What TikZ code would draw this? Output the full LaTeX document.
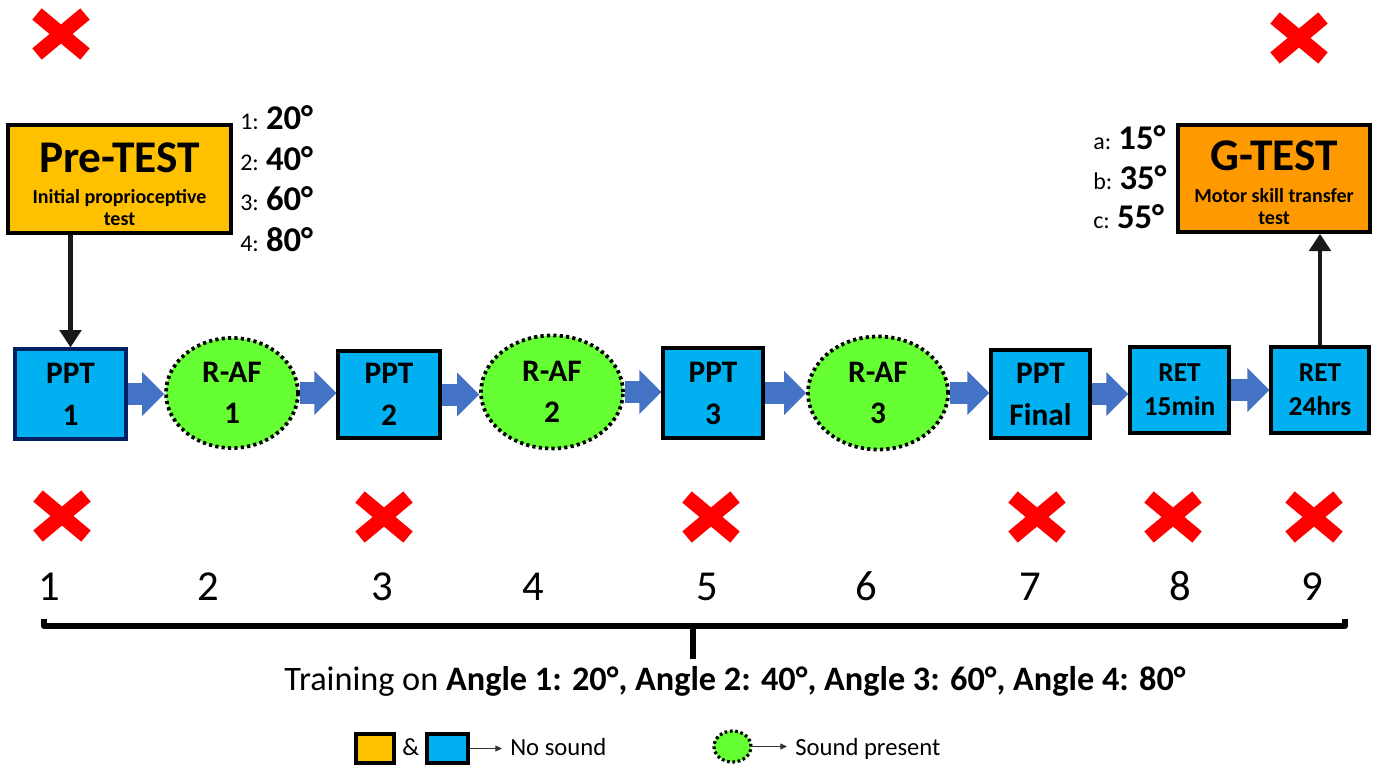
\documentclass[tikz,border=0pt]{standalone}
\usepackage{fontspec}
\setmainfont{Carlito}
\usetikzlibrary{arrows.meta,shapes.geometric}
\definecolor{preyellow}{HTML}{FFC000}
\definecolor{gorange}{HTML}{FF9900}
\definecolor{boxblue}{HTML}{00B0F0}
\definecolor{soundgreen}{HTML}{66FF33}
\definecolor{arrowblue}{HTML}{4472C4}
\definecolor{navyedge}{HTML}{002060}
\definecolor{crossred}{HTML}{FF0000}
\begin{document}
\begin{tikzpicture}[x=0.75pt,y=-0.75pt,
  testbox/.style={draw=black,line width=2.6pt,inner sep=0pt},
  pptbox/.style={draw=black,line width=2.4pt,fill=boxblue,inner sep=0pt,align=center,
    font=\bfseries\fontsize{23.5}{31.5}\selectfont},
  retbox/.style={pptbox,font=\bfseries\fontsize{20.5}{25.5}\selectfont},
  rafnode/.style={ellipse,draw=black,line width=2.8pt,dash pattern=on 2.4pt off 2.4pt,
    fill=soundgreen,inner sep=0pt,align=center,font=\bfseries\fontsize{23.5}{30.75}\selectfont},
  barrow/.style={draw=arrowblue,line width=16.5pt,
    -{Triangle[length=16.5pt 0 0,width=32pt 0 0]}},
  karrow/.style={draw=black!90,line width=3.4pt,
    -{Triangle[length=13pt 0 0,width=16pt 0 0]}},
  larrow/.style={draw=black!80,line width=0.9pt,
    -{Triangle[length=5pt 0 0,width=4.5pt 0 0]}},
  titletxt/.style={inner sep=0pt,anchor=base,font=\bfseries\fontsize{34}{40}\selectfont},
  subtxt/.style={inner sep=0pt,anchor=base,font=\bfseries\fontsize{15}{18}\selectfont},
  angtxt/.style={inner sep=0pt,anchor=base west,font=\fontsize{18}{22}\selectfont},
  angbold/.style={font=\bfseries\fontsize{26}{30}\selectfont},
  numtxt/.style={inner sep=0pt,anchor=base,font=\fontsize{32}{38}\selectfont},
  legtxt/.style={inner sep=0pt,anchor=base west,font=\fontsize{18.5}{22}\selectfont},
  redx/.pic={\draw[crossred,line width=11pt] (-24,-20)--(24,20) (-24,20)--(24,-20);}
]
\useasboundingbox (0,0) rectangle (1380,767);

% crosses
\pic at (61,34) {redx};
\pic at (1299,38) {redx};
\pic at (62,516) {redx};
\pic at (384,517) {redx};
\pic at (711,517) {redx};
\pic at (1037,517) {redx};
\pic at (1173,517) {redx};
\pic at (1314,517) {redx};

% Pre-TEST
\node[testbox,fill=preyellow,minimum width={0.75pt*223},minimum height={0.75pt*108}] (pre) at (119.5,179) {};
\node[titletxt] (pretitle) at (119.5,172) {Pre-TEST};
\node[subtxt] (presub1) at (119.5,203) {Initial proprioceptive};
\node[subtxt] (presub2) at (119.5,225) {test};

\node[angtxt] (ang1) at (240,129) {1: {\bfseries\fontsize{26}{30}\selectfont 20°}};
\node[angtxt] (ang2) at (240,170) {2: {\bfseries\fontsize{26}{30}\selectfont 40°}};
\node[angtxt] (ang3) at (240,210) {3: {\bfseries\fontsize{26}{30}\selectfont 60°}};
\node[angtxt] (ang4) at (240,251) {4: {\bfseries\fontsize{26}{30}\selectfont 80°}};

% G-TEST
\node[testbox,fill=gorange,minimum width={0.75pt*192},minimum height={0.75pt*107}] (gtest) at (1274,178.5) {};
\node[titletxt] (gtitle) at (1274,170) {G-TEST};
\node[subtxt] (gsub1) at (1274,202) {Motor skill transfer};
\node[subtxt] (gsub2) at (1274,224) {test};

\node[angtxt] (anga) at (1093,149) {a: {\bfseries\fontsize{26}{30}\selectfont 15°}};
\node[angtxt] (angb) at (1093,189) {b: {\bfseries\fontsize{26}{30}\selectfont 35°}};
\node[angtxt] (angc) at (1093,228) {c: {\bfseries\fontsize{26}{30}\selectfont 55°}};

% main row
\node[pptbox,draw=navyedge,minimum width={0.75pt*111},minimum height={0.75pt*90}] (ppt1) at (70.5,394) {PPT\\1};
\node[rafnode,minimum width={0.75pt*132},minimum height={0.75pt*110}] (raf1) at (232,393) {R-AF\\1};
\node[pptbox,minimum width={0.75pt*102},minimum height={0.75pt*87}] (ppt2) at (389,394.5) {PPT\\2};
\node[rafnode,minimum width={0.75pt*142},minimum height={0.75pt*113}] (raf2) at (552,392) {R-AF\\2};
\node[pptbox,minimum width={0.75pt*100},minimum height={0.75pt*90}] (ppt3) at (713,393) {PPT\\3};
\node[rafnode,minimum width={0.75pt*140},minimum height={0.75pt*113}] (raf3) at (878,393) {R-AF\\3};
\node[pptbox,minimum width={0.75pt*99},minimum height={0.75pt*88}] (pptf) at (1040.5,394) {PPT\\Final};
\node[retbox,minimum width={0.75pt*99},minimum height={0.75pt*86}] (ret15) at (1179.5,390) {RET\\15min};
\node[retbox,minimum width={0.75pt*98},minimum height={0.75pt*86}] (ret24) at (1320,390) {RET\\24hrs};

\draw[barrow] (ppt1.east) -- (ppt1.east -| raf1.west);
\draw[barrow] (raf1.east) -- (raf1.east -| ppt2.west);
\draw[barrow] (ppt2.east) -- (ppt2.east -| raf2.west);
\draw[barrow] (raf2.east) -- (raf2.east -| ppt3.west);
\draw[barrow] (ppt3.east) -- (ppt3.east -| raf3.west);
\draw[barrow] (raf3.east) -- (raf3.east -| pptf.west);
\draw[barrow] (pptf.east) -- (pptf.east -| ret15.west);
\draw[barrow] (ret15.east) -- (ret15.east -| ret24.west);

\draw[karrow] (pre.south -| ppt1.north) -- (ppt1.north);
\draw[karrow] (ret24.north) -- (ret24.north |- gtest.south);

% numbers
\node[numtxt] (n1) at (49,600) {1};
\node[numtxt] (n2) at (208,600) {2};
\node[numtxt] (n3) at (382,600) {3};
\node[numtxt] (n4) at (533,600) {4};
\node[numtxt] (n5) at (707,600) {5};
\node[numtxt] (n6) at (866,600) {6};
\node[numtxt] (n7) at (1030,600) {7};
\node[numtxt] (n8) at (1180,600) {8};
\node[numtxt] (n9) at (1312,600) {9};

% bracket
\coordinate (bl) at (44,619);
\coordinate (br) at (1345,619);
\coordinate (bm) at (693,626);
\coordinate (bt) at (693,659);
\draw[line width=4.5pt,line join=round] (bl) -- (bl |- bm) -- (br |- bm) -- (br);
\draw[line width=4.5pt] (bm) -- (bt);

\node[inner sep=0pt,anchor=base,font=\fontsize{25.7}{30}\selectfont] (train) at (735,690)
  {Training on \textbf{Angle 1: 20°, Angle 2: 40°, Angle 3: 60°, Angle 4: 80°}};

% legend
\node[draw=black,line width=3pt,fill=preyellow,inner sep=0pt,minimum width={0.75pt*38},minimum height={0.75pt*29}] (legy) at (375,748.5) {};
\node[legtxt] (amp) at (402,755) {\&};
\node[draw=black,line width=3pt,fill=boxblue,inner sep=0pt,minimum width={0.75pt*41},minimum height={0.75pt*29}] (legb) at (447.5,748.5) {};
\coordinate (legbend) at (502,748.5);
\draw[larrow] (legb.east) -- (legbend);
\node[legtxt] (nosound) at (510,755) {No sound};
\node[ellipse,draw=black,line width=2.4pt,dash pattern=on 2pt off 2pt,fill=soundgreen,inner sep=0pt,minimum width={0.75pt*37},minimum height={0.75pt*31}] (legg) at (732.5,746.5) {};
\coordinate (leggend) at (787,746.5);
\draw[larrow] (legg.east) -- (leggend);
\node[legtxt] (soundp) at (795,755) {Sound present};
\end{tikzpicture}
\end{document}
